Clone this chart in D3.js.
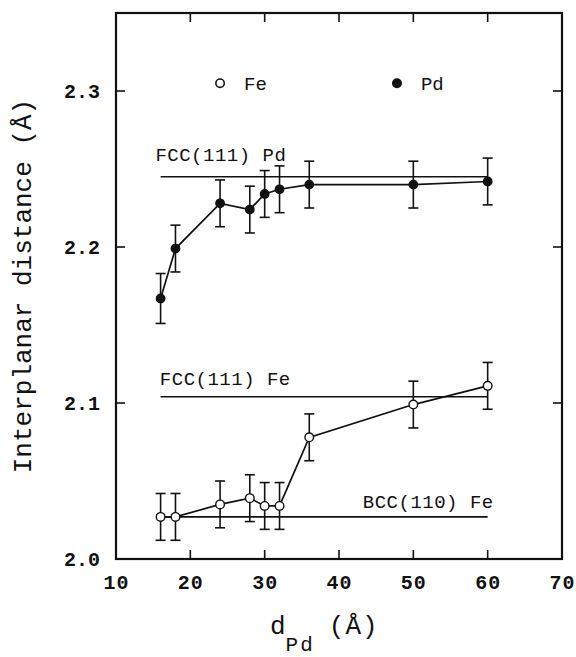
<!DOCTYPE html>
<html>
<head>
<meta charset="utf-8">
<script src="https://cdn.jsdelivr.net/npm/d3@7"></script>
<style>
  body { margin: 0; background: #fff; }
  text { font-family: "Liberation Mono", "DejaVu Sans Mono", monospace; fill: #111; }
</style>
</head>
<body>
<svg id="chart"></svg>
<script>
// data
var thickness = [16, 18, 24, 28, 30, 32, 36, 50, 60];
var pdSpacing = [2.167, 2.199, 2.228, 2.224, 2.234, 2.237, 2.240, 2.240, 2.242];
var pdError   = [0.016, 0.015, 0.015, 0.015, 0.015, 0.015, 0.015, 0.015, 0.015];
var feSpacing = [2.027, 2.027, 2.035, 2.039, 2.034, 2.034, 2.078, 2.099, 2.111];
var feError   = [0.015, 0.015, 0.015, 0.015, 0.015, 0.015, 0.015, 0.015, 0.015];

var refNames  = ["FCC(111) Pd", "FCC(111) Fe", "BCC(110) Fe"];
var refValues = [2.245, 2.104, 2.027];
var refSpan   = [16, 60];

var xTicks = [10, 20, 30, 40, 50, 60, 70];
var yTicks = [2.0, 2.1, 2.2, 2.3];

var width = 576, height = 657;
var margin = {top: 13, right: 14, bottom: 98, left: 116};
var innerW = width - margin.left - margin.right,
    innerH = height - margin.top - margin.bottom;

var x = d3.scaleLinear().domain([10, 70]).range([0, innerW]);
var y = d3.scaleLinear().domain([2.0, 2.35]).range([innerH, 0]);

var svg = d3.select("#chart").attr("width", width).attr("height", height);
var g = svg.append("g").attr("transform", "translate(" + margin.left + "," + margin.top + ")");

// frame
g.append("rect")
    .attr("width", innerW)
    .attr("height", innerH)
    .style("fill", "none")
    .style("stroke", "#111")
    .style("stroke-width", 2.2);

// inward ticks on all four sides
var innerX = xTicks.filter(function(d) { return d > 10 && d < 70; });
var innerY = yTicks.filter(function(d) { return d > 2.0; });

g.append("g").attr("transform", "translate(0," + innerH + ")")
    .call(d3.axisBottom(x).tickValues(xTicks).tickSize(0).tickPadding(16).tickFormat(d3.format("d")))
    .call(function(a) { a.select(".domain").remove(); })
    .selectAll("text")
    .style("font-size", "20px").style("font-weight", "bold").style("letter-spacing", "1px")
    .style("font-family", "Liberation Mono, monospace").attr("fill", "#111");

g.append("g")
    .call(d3.axisLeft(y).tickValues(yTicks).tickSize(0).tickPadding(16).tickFormat(d3.format(".1f")))
    .call(function(a) { a.select(".domain").remove(); })
    .selectAll("text")
    .style("font-size", "20px").style("font-weight", "bold")
    .style("font-family", "Liberation Mono, monospace").attr("fill", "#111");

var ticks = g.append("g").style("stroke", "#111").style("stroke-width", 1.6);
innerX.forEach(function(d) {
    ticks.append("line").attr("x1", x(d)).attr("x2", x(d)).attr("y1", innerH).attr("y2", innerH - 9);
    ticks.append("line").attr("x1", x(d)).attr("x2", x(d)).attr("y1", 0).attr("y2", 9);
});
innerY.forEach(function(d) {
    ticks.append("line").attr("x1", 0).attr("x2", 9).attr("y1", y(d)).attr("y2", y(d));
    ticks.append("line").attr("x1", innerW).attr("x2", innerW - 9).attr("y1", y(d)).attr("y2", y(d));
});

// reference lines
var labelX = [15.3, 15.9, 43.2];
var labelDy = [-16, -12, -9];
refValues.forEach(function(v, i) {
    g.append("line")
        .attr("x1", x(refSpan[0])).attr("x2", x(refSpan[1]))
        .attr("y1", y(v)).attr("y2", y(v))
        .style("stroke", "#111").style("stroke-width", 1.6);
    g.append("text")
        .attr("x", x(labelX[i]))
        .attr("y", y(v) + labelDy[i])
        .style("font-size", "19px")
        .style("letter-spacing", "0.5px")
        .text(refNames[i]);
});

// series with error bars
function drawSeries(vals, errs, filled) {
    var pts = thickness.map(function(t, i) { return {x: t, y: vals[i], e: errs[i]}; });
    var line = d3.line().x(function(d) { return x(d.x); }).y(function(d) { return y(d.y); });
    g.append("path").datum(pts)
        .attr("d", line)
        .style("fill", "none").style("stroke", "#111").style("stroke-width", 1.7);

    var eb = g.append("g").style("stroke", "#111").style("stroke-width", 1.6);
    pts.forEach(function(p) {
        eb.append("line").attr("x1", x(p.x)).attr("x2", x(p.x)).attr("y1", y(p.y - p.e)).attr("y2", y(p.y + p.e));
        eb.append("line").attr("x1", x(p.x) - 5).attr("x2", x(p.x) + 5).attr("y1", y(p.y - p.e)).attr("y2", y(p.y - p.e));
        eb.append("line").attr("x1", x(p.x) - 5).attr("x2", x(p.x) + 5).attr("y1", y(p.y + p.e)).attr("y2", y(p.y + p.e));
    });

    g.append("g").selectAll("circle").data(pts).enter().append("circle")
        .attr("cx", function(d) { return x(d.x); })
        .attr("cy", function(d) { return y(d.y); })
        .attr("r", filled ? 4.2 : 4.3)
        .style("fill", filled ? "#111" : "#fff")
        .style("stroke", "#111")
        .style("stroke-width", 1.4);
}
drawSeries(feSpacing, feError, false);
drawSeries(pdSpacing, pdError, true);

// legend
var legendX = [24, 47.8], legendY = 2.305;
var legendNames = ["Fe", "Pd"];
legendNames.forEach(function(name, i) {
    g.append("circle")
        .attr("cx", x(legendX[i])).attr("cy", y(legendY))
        .attr("r", 4.2)
        .style("fill", i == 0 ? "#fff" : "#111")
        .style("stroke", "#111").style("stroke-width", 1.6);
    g.append("text")
        .attr("x", x(legendX[i]) + 24).attr("y", y(legendY) + 7)
        .style("font-size", "19px")
        .text(name);
});

// axis titles
svg.append("text")
    .attr("transform", "translate(31," + (margin.top + innerH / 2) + ") rotate(-90)")
    .attr("text-anchor", "middle")
    .style("font-size", "26px")
    .text("Interplanar distance (\u00C5)");

var xt = svg.append("text")
    .attr("x", 270).attr("y", 634)
    .style("font-size", "26px");
xt.append("tspan").text("d");
xt.append("tspan").attr("dy", 17).style("font-size", "21px").style("letter-spacing", "2px").text("Pd");
xt.append("tspan").attr("dy", -17).attr("dx", 14).style("letter-spacing", "1px").text("(\u00C5)");
</script>
</body>
</html>
